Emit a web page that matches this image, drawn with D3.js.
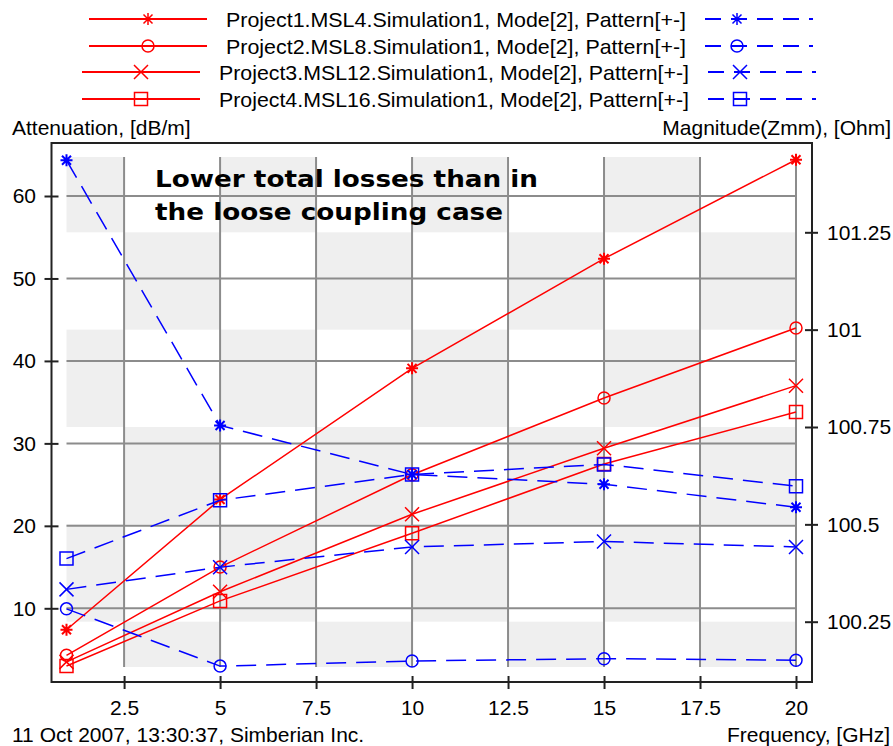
<!DOCTYPE html>
<html>
<head>
<meta charset="utf-8">
<script src="https://cdn.jsdelivr.net/npm/d3@7"></script>
<style>
body { margin: 0; background: #fff; }
text { font-family: "Liberation Sans", Arial, sans-serif; font-size: 21px; fill: #000; }
</style>
</head>
<body>
<svg id="chart" width="893" height="746"></svg>
<script>
// Data
var freqs = [1, 5, 10, 15, 20];
var seriesNames = [
    "Project1.MSL4.Simulation1, Mode[2], Pattern[+-]",
    "Project2.MSL8.Simulation1, Mode[2], Pattern[+-]",
    "Project3.MSL12.Simulation1, Mode[2], Pattern[+-]",
    "Project4.MSL16.Simulation1, Mode[2], Pattern[+-]"
];
var markerTypes = ["star", "circle", "cross", "square"];
var attenuation = [ // dB/m, left axis (red, solid)
    [7.4, 23.2, 39.1, 52.4, 64.4],
    [4.3, 15.0, 26.2, 35.5, 44.0],
    [3.5, 12.0, 21.4, 29.4, 37.0],
    [3.0, 10.9, 19.1, 27.5, 33.8]
];
var zmm = [ // Ohm, right axis (blue, dashed)
    [101.435, 100.754, 100.628, 100.603, 100.544],
    [100.283, 100.136, 100.149, 100.155, 100.151],
    [100.333, 100.390, 100.442, 100.456, 100.442],
    [100.412, 100.562, 100.628, 100.654, 100.598]
];
var xTicks = [2.5, 5, 7.5, 10, 12.5, 15, 17.5, 20];
var leftTicks = [10, 20, 30, 40, 50, 60];
var rightTicks = [100.25, 100.5, 100.75, 101, 101.25];

var svg = d3.select("#chart");

var x = d3.scaleLinear().domain([1, 20]).range([66.5, 796]);
var yL = d3.scaleLinear().domain([10, 60]).range([608.3, 196]);
var yR = d3.scaleLinear().domain([100.25, 101.25]).range([621.7, 232.3]);
var plotTop = 157, plotBottom = 667; // data region

// checkerboard background
var rowEdges = [plotTop].concat(rightTicks.slice().reverse().map(yR)).concat([plotBottom]);
var colEdges = [x(1)].concat(xTicks.map(x));
for (var i = 0; i < rowEdges.length - 1; i++) {
    for (var j = 0; j < colEdges.length - 1; j++) {
        if ((i + j) % 2 == 0) {
            svg.append("rect")
                .attr("x", colEdges[j]).attr("y", rowEdges[i])
                .attr("width", colEdges[j + 1] - colEdges[j])
                .attr("height", rowEdges[i + 1] - rowEdges[i])
                .attr("fill", "#efefef");
        }
    }
}

// grid
svg.append("g").selectAll("line").data(xTicks).join("line")
    .attr("x1", x).attr("x2", x).attr("y1", plotTop).attr("y2", plotBottom)
    .attr("stroke", "#8c8c8c").attr("stroke-width", 2);
svg.append("g").selectAll("line").data(leftTicks).join("line")
    .attr("x1", x(1)).attr("x2", x(20)).attr("y1", yL).attr("y2", yL)
    .attr("stroke", "#8c8c8c").attr("stroke-width", 2);

// frame
svg.append("rect").attr("x", 51.5).attr("y", 143).attr("width", 760.5).attr("height", 539)
    .attr("fill", "none").attr("stroke", "#222").attr("stroke-width", 2);

// axes (ticks cross the frame line)
var gL = svg.append("g").attr("transform", "translate(51.5,0)")
    .call(d3.axisLeft(yL).tickValues(leftTicks).tickSize(7).tickPadding(8.5));
gL.selectAll(".tick line").attr("x1", 7);
var gR = svg.append("g").attr("transform", "translate(812,0)")
    .call(d3.axisRight(yR).tickValues(rightTicks).tickSize(6).tickPadding(9).tickFormat(d => String(d)));
gR.selectAll(".tick line").attr("x1", -7);
var gB = svg.append("g").attr("transform", "translate(0,682)")
    .call(d3.axisBottom(x).tickValues(xTicks).tickSize(7).tickPadding(11).tickFormat(d => String(d)));
gB.selectAll(".tick line").attr("y1", -6);
svg.selectAll(".domain").remove();
svg.selectAll(".tick line").attr("stroke", "#222").attr("stroke-width", 2);
svg.selectAll(".tick text").attr("font-size", 21).attr("font-family", "Liberation Sans, Arial, sans-serif").attr("fill", "#000");

// marker shapes
function markerPath(type) {
    if (type == "star") return "M-6,0H6M0,-6V6M-4.5,-4.5L4.5,4.5M-4.5,4.5L4.5,-4.5";
    if (type == "circle") return "M6,0A6,6 0 1,1 -6,0A6,6 0 1,1 6,0Z";
    if (type == "cross") return "M-7,-7L7,7M-7,7L7,-7";
    return "M-6.5,-6.5H6.5V6.5H-6.5Z";
}

var lineL = d3.line().x((d, k) => x(freqs[k])).y(d => yL(d));
var lineR = d3.line().x((d, k) => x(freqs[k])).y(d => yR(d));

// red attenuation curves
attenuation.forEach(function (vals, s) {
    svg.append("path").attr("d", lineL(vals)).attr("fill", "none")
        .attr("stroke", "#ff0000").attr("stroke-width", 1.5);
    svg.append("g").selectAll("path").data(vals).join("path")
        .attr("transform", (d, k) => "translate(" + x(freqs[k]) + "," + yL(d) + ")")
        .attr("d", markerPath(markerTypes[s])).attr("fill", "none")
        .attr("stroke", "#ff0000").attr("stroke-width", markerTypes[s] == "star" ? 2 : 1.5);
});

// blue impedance curves
zmm.forEach(function (vals, s) {
    svg.append("path").attr("d", lineR(vals)).attr("fill", "none")
        .attr("stroke", "#0000ff").attr("stroke-width", 1.5).attr("stroke-dasharray", "20,10");
    svg.append("g").selectAll("path").data(vals).join("path")
        .attr("transform", (d, k) => "translate(" + x(freqs[k]) + "," + yR(d) + ")")
        .attr("d", markerPath(markerTypes[s])).attr("fill", "none")
        .attr("stroke", "#0000ff").attr("stroke-width", markerTypes[s] == "star" ? 2 : 1.5);
});

// legend
var legendX = [226, 226, 219, 219];
var legendW = [460, 460, 470, 470];
var legendY = [19, 46, 72, 99];
seriesNames.forEach(function (name, s) {
    var g = svg.append("g");
    var tx = legendX[s], ty = legendY[s], tw = legendW[s];
    g.append("line").attr("x1", tx - 137).attr("x2", tx - 19).attr("y1", ty).attr("y2", ty)
        .attr("stroke", "#ff0000").attr("stroke-width", 2);
    g.append("path").attr("transform", "translate(" + (tx - 78) + "," + ty + ")")
        .attr("d", markerPath(markerTypes[s])).attr("fill", "none").attr("stroke", "#ff0000").attr("stroke-width", 1.5);
    g.append("text").attr("x", tx).attr("y", ty + 7.5).attr("textLength", tw)
        .attr("lengthAdjust", "spacingAndGlyphs").text(name);
    var bx = tx + tw + 19;
    g.append("line").attr("x1", bx).attr("x2", bx + 108).attr("y1", ty).attr("y2", ty)
        .attr("stroke", "#0000ff").attr("stroke-width", 2).attr("stroke-dasharray", "16,10");
    g.append("path").attr("transform", "translate(" + (bx + 32) + "," + ty + ")")
        .attr("d", markerPath(markerTypes[s])).attr("fill", "none").attr("stroke", "#0000ff").attr("stroke-width", 1.5);
});

// axis titles and footer
svg.append("text").attr("x", 12).attr("y", 135).text("Attenuation, [dB/m]");
svg.append("text").attr("x", 891).attr("y", 135).attr("text-anchor", "end").text("Magnitude(Zmm), [Ohm]");
svg.append("text").attr("x", 12).attr("y", 742).text("11 Oct 2007, 13:30:37, Simberian Inc.");
svg.append("text").attr("x", 890).attr("y", 742).attr("text-anchor", "end").text("Frequency, [GHz]");

// annotation
svg.append("text").attr("x", 155).attr("y", 187).attr("textLength", 383).attr("lengthAdjust", "spacingAndGlyphs")
    .style("font-family", "'DejaVu Sans', Verdana, sans-serif").style("font-weight", "bold").style("font-size", "23px")
    .text("Lower total losses than in");
svg.append("text").attr("x", 155).attr("y", 220).attr("textLength", 348).attr("lengthAdjust", "spacingAndGlyphs")
    .style("font-family", "'DejaVu Sans', Verdana, sans-serif").style("font-weight", "bold").style("font-size", "23px")
    .text("the loose coupling case");
</script>
</body>
</html>
